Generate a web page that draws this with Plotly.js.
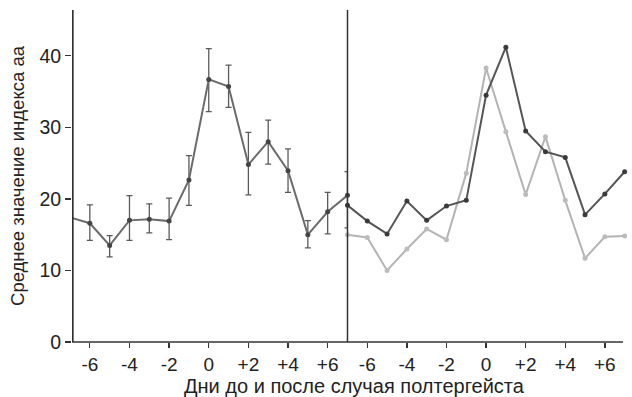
<!DOCTYPE html>
<html>
<head>
<meta charset="utf-8">
<script src="https://cdn.plot.ly/plotly-3.0.1.min.js"></script>
<style>html,body{margin:0;padding:0;background:#fff;}#chart{width:632px;height:397px;}</style>
</head>
<body>
<div id="chart"></div>
<script>
const days = [-7,-6,-5,-4,-3,-2,-1,0,1,2,3,4,5,6,7];
const tickVals = [-6,-4,-2,0,2,4,6];
const tickLabels = ['-6','-4','-2','0','+2','+4','+6'];
const yTicks = [0,10,20,30,40];

// left panel: mean aa index with error bars
const meanAA = [17.4, 16.6, 13.5, 17.0, 17.15, 16.9, 22.65, 36.7, 35.7, 24.8, 28.0, 23.95, 15.0, 18.2, 20.5];
const errPlus = [1.95, 2.56, 1.37, 3.46, 2.15, 3.2, 3.4, 4.3, 3.0, 4.5, 3.0, 3.05, 1.97, 2.7, 3.3];
const errMinus = [2.15, 2.4, 1.6, 2.8, 1.9, 2.6, 3.55, 4.5, 2.9, 4.25, 3.15, 3.05, 1.85, 3.1, 4.55];

// right panel: two series
const seriesDark = [19.1, 16.9, 15.1, 19.7, 17.0, 19.0, 19.8, 34.5, 41.2, 29.5, 26.6, 25.8, 17.8, 20.7, 23.8];
const seriesLight = [15.0, 14.6, 10.0, 13.0, 15.8, 14.3, 23.6, 38.3, 29.4, 20.6, 28.7, 19.8, 11.7, 14.7, 14.8];

const FONT = 'Liberation Sans, Arial, sans-serif';
const SPLIT = 0.4946;
const XEND = 0.9892;

const traces = [
  {
    x: days, y: meanAA, xaxis: 'x', yaxis: 'y', type: 'scatter', mode: 'lines+markers',
    line: {color: '#6b6b6b', width: 2},
    marker: {color: '#444', size: 5},
    error_y: {type: 'data', symmetric: false, array: errPlus, arrayminus: errMinus,
              color: '#5a5a5a', thickness: 1.3, width: 3},
    cliponaxis: false, hoverinfo: 'skip'
  },
  {
    x: days, y: seriesLight, xaxis: 'x2', yaxis: 'y', type: 'scatter', mode: 'lines+markers',
    line: {color: '#b4b4b4', width: 2},
    marker: {color: '#bcbcbc', size: 5},
    cliponaxis: false, hoverinfo: 'skip'
  },
  {
    x: days, y: seriesDark, xaxis: 'x2', yaxis: 'y', type: 'scatter', mode: 'lines+markers',
    line: {color: '#555', width: 2},
    marker: {color: '#3a3a3a', size: 5},
    cliponaxis: false, hoverinfo: 'skip'
  }
];

const axisCommon = {
  showgrid: false, zeroline: false, showline: false,
  ticks: 'outside', ticklen: 5, tickwidth: 1.3, tickcolor: '#333',
  tickfont: {family: FONT, size: 19, color: '#222'},
  tickmode: 'array', tickvals: tickVals, ticktext: tickLabels, fixedrange: true
};

const layout = {
  width: 632, height: 397,
  margin: {l: 72, r: 3, t: 10, b: 55},
  paper_bgcolor: '#fff', plot_bgcolor: '#fff',
  showlegend: false,
  xaxis: Object.assign({}, axisCommon, {domain: [0, SPLIT], range: [-6.9, 7], anchor: 'y'}),
  xaxis2: Object.assign({}, axisCommon, {domain: [SPLIT, 1], range: [-7, 7.22], anchor: 'y'}),
  yaxis: {
    anchor: 'x',
    range: [0, 46.4], showgrid: false, zeroline: false, showline: false,
    ticks: 'outside', ticklen: 6, tickwidth: 1.3, tickcolor: '#333',
    tickmode: 'array', tickvals: yTicks, ticktext: yTicks.map(String),
    tickfont: {family: FONT, size: 19.5, color: '#222'},
    title: {text: 'Среднее значение индекса аа', standoff: 9,
            font: {family: FONT, size: 18.5, color: '#222'}},
    fixedrange: true
  },
  annotations: [{
    text: 'Дни до и после случая полтергейста', xref: 'paper', yref: 'paper',
    x: 0.508, y: 0, yshift: -43.5, xanchor: 'center', yanchor: 'middle', showarrow: false,
    font: {family: FONT, size: 20, color: '#222'}
  }],
  shapes: [
    {type: 'line', xref: 'paper', yref: 'paper', x0: SPLIT, x1: SPLIT, y0: 0, y1: 1,
     line: {color: '#333', width: 1.5}},
    {type: 'line', xref: 'paper', yref: 'paper', x0: 0.0015, x1: 0.0015, y0: 0, y1: 1,
     line: {color: '#2a2a2a', width: 1.6}},
    {type: 'line', xref: 'paper', yref: 'paper', x0: 0, x1: XEND, y0: 0, y1: 0,
     line: {color: '#333', width: 1.5}}
  ]
};

Plotly.newPlot('chart', traces, layout, {displayModeBar: false, staticPlot: true});
</script>
</body>
</html>
